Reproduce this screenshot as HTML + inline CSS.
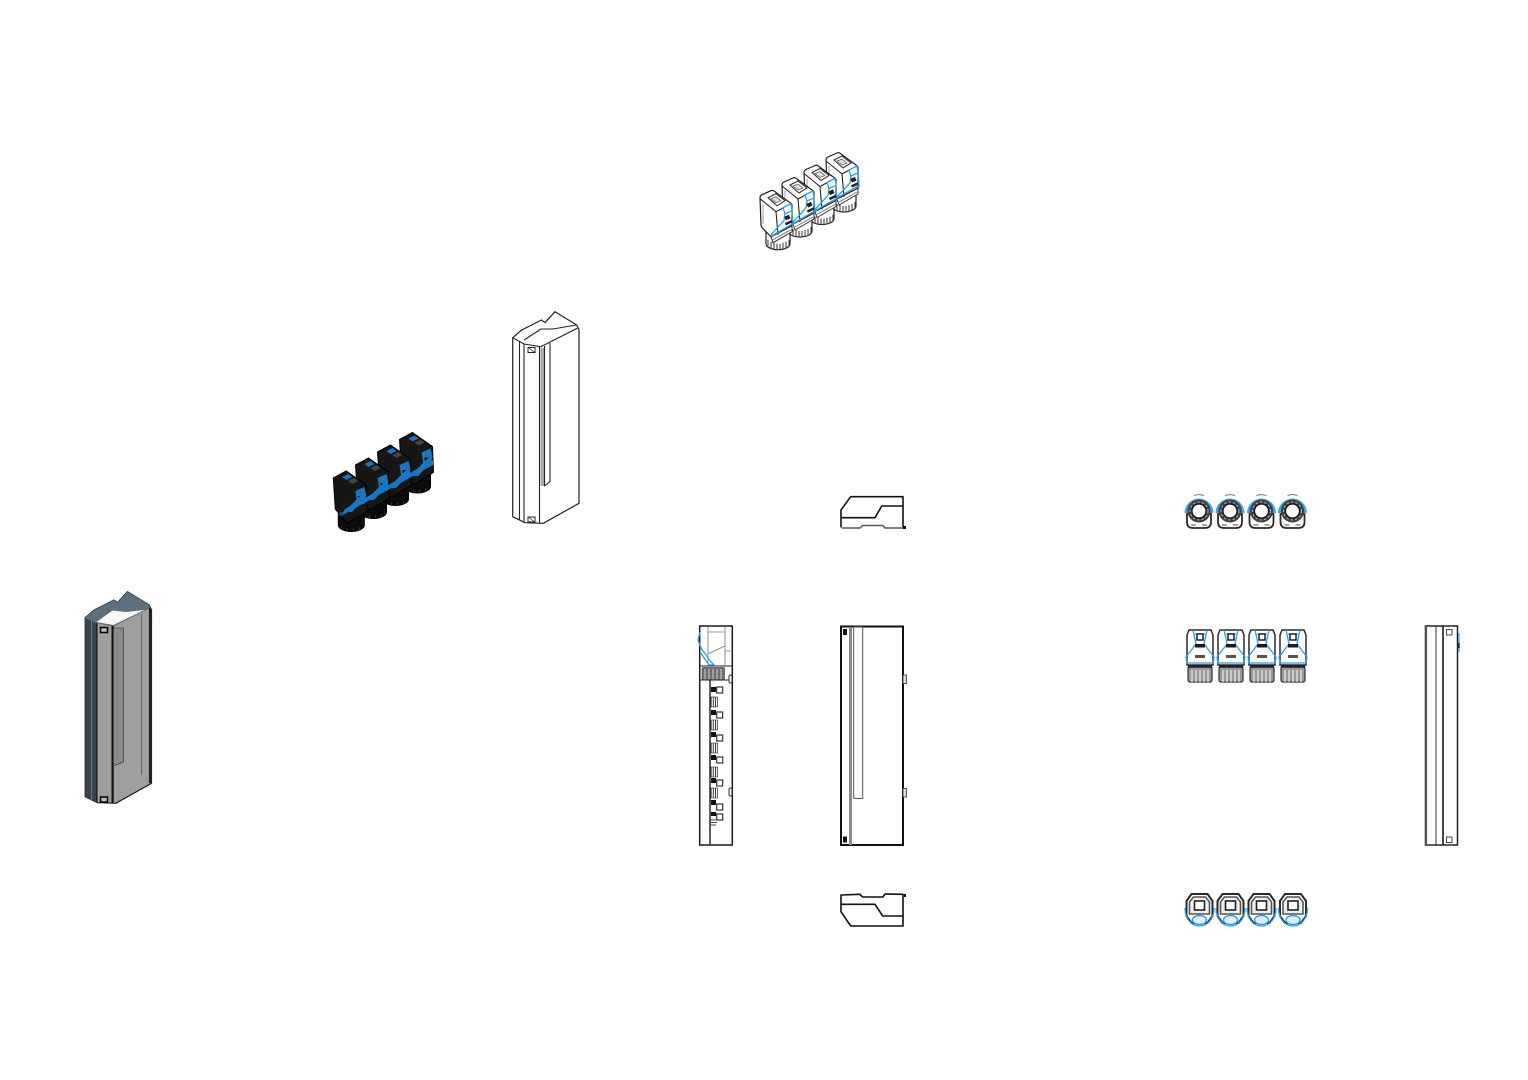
<!DOCTYPE html>
<html>
<head>
<meta charset="utf-8">
<style>
html,body{margin:0;padding:0;background:#fff;width:1528px;height:1080px;overflow:hidden}
svg{display:block}
.k{fill:none;stroke:#222;stroke-width:1.1;stroke-linejoin:round}
.kt{fill:none;stroke:#111;stroke-width:1.6;stroke-linejoin:round}
.g{fill:none;stroke:#777;stroke-width:.8}
.b{fill:none;stroke:#2e9be6;stroke-width:1.3}
</style>
</head>
<body>
<svg width="1528" height="1080" viewBox="0 0 1528 1080" xmlns="http://www.w3.org/2000/svg">
<defs>
<pattern id="comb" width="2.2" height="4" patternUnits="userSpaceOnUse">
  <rect width="1" height="4" fill="#333"/>
</pattern>
<!-- isometric connector, outline style -->
<g id="iso">
  <path d="M6 42 V53 A12 6 0 0 0 30 53 V36 Z" fill="#fff" stroke="#222" stroke-width="1.2"/>
  <path d="M8 49V56M11 51V58M14 52V59M17 53V59.5M20 53V59.5M23 52V59M26 51V58M29 49V56" stroke="#444" stroke-width="1.1"/>
  <path d="M11 46 L32 35 L32 41 L13 52 Z" fill="#fff" stroke="#333"/>
  <path d="M13 49 L31 39" stroke="#777" stroke-width="1"/>
  <path d="M0 7 Q0 5 2 4 L11 0 Q13 -1 15 1 L30 12 Q32 13 32 15 L32 35 L11 46 L3 38 Q1 36 1 34 Z" fill="#fff" stroke="#222" stroke-width="1.2" stroke-linejoin="round"/>
  <path d="M0 8 L16 21 L31 13 M16 21 L18 44" class="k"/>
  <path d="M8 7 L16 3 L25 10 L17 15 Z" fill="#fff" stroke="#333" stroke-width="1.1"/>
  <path d="M11 8 L16 6 L21 10 L16 12 Z" fill="#ddd" stroke="#555" stroke-width=".7"/>
  <path d="M3 13V33" stroke="#888" stroke-width=".8"/>
  <path d="M23 17 L31 13 L32 20 L25 23 Z" fill="#fff" stroke="#2e9be6" stroke-width="1.3"/>
  <path d="M25 23 L24 30 L11 44 M32 20 L33 34" class="b"/>
  <rect x="25" y="25" width="5" height="4" fill="#222" transform="rotate(-25 27 27)"/>
  <rect x="25" y="31" width="7" height="2.5" fill="#222" transform="rotate(-25 28 32)"/>
</g>
<!-- isometric connector, solid style -->
<g id="isoD">
  <path d="M5 40 V54 A13 6.5 0 0 0 31 54 V34 Z" fill="#0b0b0b" stroke="#000"/>
  <path d="M8 55V59M14 57V60M20 57V60M26 56V59" stroke="#333" stroke-width="1"/>
  <path d="M0 7 L13 0 L33 14 L34 40 L14 52 L2 38 Z" fill="#161616" stroke="#000" stroke-linejoin="round"/>
  <path d="M9 6 L15 3 L19 6 L13 9 Z" fill="#1d74c0"/>
  <path d="M15 10 L21 7 L25 10 L19 13 Z" fill="#444"/>
  <path d="M22 20 L31 16 L33 24 L31 33 L24 32 Z" fill="#1d74c0"/>
  <rect x="25" y="25" width="4" height="3" fill="#111"/>
</g>
<!-- end-on view, top row -->
<g id="top">
  <path d="M-12 4 L-12 12 Q-12 18 -6 18 L6 18 Q12 18 12 12 L12 4 Z" fill="#fff" stroke="#2a2a2a" stroke-width="1.8"/>
  <path d="M-14.5 3 A14.5 14.5 0 0 1 14.5 3 L11 3 A11.5 11.5 0 0 0 -11 3 Z" fill="#3fa3ea"/>
  <path d="M-5 -14.5 A15 15 0 0 1 5 -14.5" fill="none" stroke="#777" stroke-width="1"/>
  <circle cx="0" cy="1" r="11.5" fill="#3e3e3e"/>
  <circle cx="0" cy="1" r="9" fill="none" stroke="#b5b5b5" stroke-width="1" stroke-dasharray="2.5 2"/>
  <circle cx="0" cy="1" r="7" fill="#fff" stroke="#111" stroke-width="1.2"/>
  <path d="M-8 15H-3M3 15H8" stroke="#888" stroke-width="1.6"/>
</g>
<!-- front view -->
<g id="front">
  <path d="M-11 1 L11 1 L13 6 L13 36 L-13 36 L-13 6 Z" fill="#fff" stroke="#2a2a2a" stroke-width="1.5"/>
  <path d="M-7 1 L-5 10 L-4 15 L-14 28 L-13 34 L13 34 L14 28 L4 15 L5 10 L7 1" class="b" stroke-width="1.5"/>
  <path d="M-5 5H5" stroke="#2e9be6" stroke-width="1.2"/>
  <rect x="-3" y="5" width="6" height="6" fill="#fff" stroke="#111" stroke-width="1.4"/>
  <rect x="-5" y="15" width="10" height="3.5" fill="#1a1a1a"/>
  <rect x="-5" y="26" width="10" height="3" fill="#555"/>
  <rect x="-12" y="37" width="24" height="16" rx="2" fill="#999" stroke="#333" stroke-width="1.2"/>
  <path d="M-8 41V53M-4 41V53M0 41V53M4 41V53M8 41V53" stroke="#eee" stroke-width="1.2"/>
  <path d="M-12 37.5H12" stroke="#222" stroke-width="2.5"/>
</g>
<!-- bottom view -->
<g id="bot">
  <path d="M-8 0 L8 0 L13 7 L13 22 L8 29 L-8 29 L-13 22 L-13 7 Z" fill="#fff" stroke="#2a2a2a" stroke-width="2"/>
  <path d="M-6 3 L6 3 L10 8 L10 20 L-10 20 L-10 8 Z" fill="#eee" stroke="#555" stroke-width="1.6"/>
  <rect x="-5" y="7" width="10" height="9" fill="#fff" stroke="#222" stroke-width="1.6"/>
  <path d="M-14.5 14 C-14.5 25 -8 32 0 32 C8 32 14.5 25 14.5 14" class="b" stroke-width="1.6"/>
  <ellipse cx="0" cy="26" rx="7" ry="4.5" fill="#dff0fb" stroke="#2e9be6" stroke-width="1.4"/>
</g>
<!-- tall enclosure outline -->
<g id="box">
  <path d="M512.7 337.7 L521.7 330 L541.5 320 L545 322.7 L555 311.7 L576.7 325 L579 330 L579 503.3 L543.3 523.3 L525 522.7 L512.7 516.7 Z" fill="#fff" stroke="#222" stroke-width="1.2" stroke-linejoin="round"/>
  <path d="M512.7 337.7 L524 344 L540.7 346.7 L577.3 328.3 M524 340 L541 329 L553 329 L576 325" class="k"/>
  <path d="M519.5 341V520M524 344V522.5M539.5 346.5V523" class="k"/>
  <rect x="540.5" y="348" width="4" height="138" fill="#aaa"/>
  <path d="M544.5 346V486 L550 481.7 V343" class="k"/>
  <rect x="528" y="347.5" width="7" height="5" fill="#fff" stroke="#222"/>
  <rect x="528" y="517" width="7" height="5" fill="#fff" stroke="#222"/>
  <path d="M529 348L534 352M529 517.5L534 521.5" stroke="#222" stroke-width=".8"/>
</g>
</defs>

<rect width="1528" height="1080" fill="#fff"/>

<!-- isometric connector strip, outline -->
<g>
  <use href="#iso" transform="translate(826,153)"/>
  <use href="#iso" transform="translate(804,165.5)"/>
  <use href="#iso" transform="translate(782,178)"/>
  <use href="#iso" transform="translate(760,190.7)"/>
  <path d="M771.5 236 L858 186 M858 170 L859 186" class="b"/>
</g>

<!-- isometric connector strip, solid -->
<g>
  <use href="#isoD" transform="translate(399.5,432.5)"/>
  <use href="#isoD" transform="translate(377.5,445)"/>
  <use href="#isoD" transform="translate(355.5,458)"/>
  <use href="#isoD" transform="translate(333.3,471)"/>
  <path d="M341 516 L433 465 L433 460 L345 509 Z" fill="#1d74c0"/>
  <path d="M344 512 L362 494 L366 497 L352 512 Z M366 500 L384 482 L388 485 L374 500 Z M388 488 L406 470 L410 473 L396 488 Z M410 476 L428 458 L432 461 L418 476 Z" fill="#1d74c0"/>
  <circle cx="341" cy="514" r="2" fill="#0d4f8c"/>
</g>

<!-- enclosure outline -->
<use href="#box"/>

<!-- enclosure shaded -->
<g transform="translate(-427.5,280)">
  <path d="M512.7 337.7 L521.7 330 L541.5 320 L545 322.7 L555 311.7 L576.7 325 L579 330 L579 503.3 L543.3 523.3 L525 522.7 L512.7 516.7 Z" fill="#9f9f9f" stroke="#222" stroke-width="1.2" stroke-linejoin="round"/>
  <path d="M512.7 337.7 L523.5 343 L523.5 522 L512.7 516.7 Z" fill="#37424c"/>
  <path d="M512.7 337.7 L521.7 330 L541.5 320 L545 322.7 L555 311.7 L576.7 325 L577.3 328.3 L540.7 346.7 L523.5 343 Z" fill="#5d7080"/>
  <path d="M524 342 L540 330.5 L553 332 L572 330 L541 345 Z" fill="#f7f7f7"/>
  <path d="M519 341V520" stroke="#6a7680" stroke-width="1"/>
  <rect x="523.5" y="343" width="1.6" height="179" fill="#222"/>
  <rect x="539" y="346" width="2.2" height="177" fill="#111"/>
  <path d="M541 348H551V482L541 486Z" fill="#8a8a8a" stroke="#444" stroke-width=".8"/>
  <path d="M569 334V495" stroke="#666" stroke-width="1"/>
  <path d="M577.5 328V503" stroke="#222" stroke-width="2.2"/>
  <rect x="528" y="347.5" width="7" height="5" fill="#bbb" stroke="#000" stroke-width="1.5"/>
  <rect x="528" y="517" width="7" height="5" fill="#bbb" stroke="#000" stroke-width="1.5"/>
</g>

<!-- side elevation -->
<g>
  <rect x="699.7" y="626" width="32.6" height="219" fill="#fff" stroke="#1a1a1a" stroke-width="1.5"/>
  <path d="M710 680V845" stroke="#1a1a1a" stroke-width="1.4"/>
  <path d="M699.7 666H732.3" class="k"/>
  <path d="M708 627V666M725 627V666M708 654 L725 646 M725 651H732M708 632H725" class="g"/>
  <path d="M700 632 L698 640 L701 648 L711 662 L714 665 L709 665 L700 652" class="b" stroke-width="1.5"/>
  <rect x="701.5" y="667" width="23.5" height="13" rx="1.5" fill="#6f6f6f"/>
  <path d="M705 669V680M709 669V680M713 669V680M717 669V680M721 669V680" stroke="#ccc" stroke-width="1"/>
  <path d="M699.7 680H732" stroke="#222"/>
  <g fill="url(#comb)" stroke="#333" stroke-width=".6">
    <rect x="710.5" y="697" width="7" height="10"/>
    <rect x="710.5" y="720" width="7" height="10"/>
    <rect x="710.5" y="743" width="7" height="10"/>
    <rect x="710.5" y="767" width="7" height="10"/>
    <rect x="710.5" y="788" width="7" height="10"/>
  </g>
  <g fill="#fff" stroke="#222" stroke-width="1.1">
    <rect x="716.7" y="687" width="6" height="6"/>
    <rect x="716.7" y="712" width="6" height="6"/>
    <rect x="716.7" y="735" width="6" height="6"/>
    <rect x="716.7" y="757" width="6" height="6"/>
    <rect x="716.7" y="780" width="6" height="6"/>
    <rect x="716.7" y="804" width="6" height="6"/>
    <rect x="716.7" y="814" width="6" height="6"/>
  </g>
  <g fill="#111">
    <rect x="711" y="687" width="5" height="5"/>
    <rect x="711" y="710" width="5" height="5"/>
    <rect x="711" y="732" width="5" height="5"/>
    <rect x="711" y="755" width="5" height="5"/>
    <rect x="711" y="778" width="5" height="5"/>
    <rect x="711" y="800" width="5" height="5"/>
    <rect x="711" y="812" width="5" height="4"/>
  </g>
  <path d="M711 820H717M711 822.5H717M711 825H716" stroke="#444" stroke-width=".9"/>
  <rect x="729" y="675" width="3" height="8" rx="1.5" fill="#fff" stroke="#333"/>
  <rect x="729" y="788" width="3" height="8" rx="1.5" fill="#fff" stroke="#333"/>
</g>

<!-- top view -->
<g>
  <path d="M841 527.5 V510 L850.7 496.7 H903 V527" class="kt"/>
  <path d="M841 517.7 H875 L881.7 506 H903" class="kt" stroke-width="1.2"/>
  <path d="M842 528 H860 L862.5 525.5 H883 L885 528 H903" fill="none" stroke="#555" stroke-width="1.4"/>
  <rect x="903" y="526" width="3" height="3" fill="#111"/>
</g>

<!-- main elevation -->
<g>
  <rect x="841" y="626.5" width="62" height="218.5" fill="#fff" stroke="#111" stroke-width="2"/>
  <rect x="849" y="627" width="3" height="218" fill="#8c8c8c"/>
  <rect x="853.7" y="627" width="9" height="171.5" fill="#fff" stroke="#555" stroke-width="1"/>
  <rect x="843" y="629" width="4" height="6" fill="#111"/>
  <rect x="843" y="836.5" width="4" height="6" fill="#111"/>
  <rect x="903" y="675" width="3.5" height="8.5" fill="#ddd" stroke="#444" stroke-width=".9"/>
  <rect x="903" y="788.5" width="3.5" height="8.5" fill="#ddd" stroke="#444" stroke-width=".9"/>
</g>

<!-- bottom view -->
<g>
  <path d="M841 911.7 V895 L860 894.3 L862.5 897 H883 L885 894 L903 894.3 V926 H850.7 Z" class="kt" stroke-width="1.4"/>
  <path d="M841 904.3 H875 L882.7 916 H903" class="kt" stroke-width="1.2"/>
  <rect x="904" y="894" width="2" height="3" fill="#111"/>
</g>

<!-- connector end views -->
<use href="#top" transform="translate(1199,510)"/>
<use href="#top" transform="translate(1230,510)"/>
<use href="#top" transform="translate(1261.5,510)"/>
<use href="#top" transform="translate(1292.5,510)"/>

<use href="#front" transform="translate(1200,629)"/>
<use href="#front" transform="translate(1231,629)"/>
<use href="#front" transform="translate(1262,629)"/>
<use href="#front" transform="translate(1293,629)"/>

<use href="#bot" transform="translate(1199.5,894)"/>
<use href="#bot" transform="translate(1230.5,894)"/>
<use href="#bot" transform="translate(1261.5,894)"/>
<use href="#bot" transform="translate(1293,894)"/>

<!-- rear elevation -->
<g>
  <rect x="1425.5" y="626" width="32" height="219" fill="#fff" stroke="#222" stroke-width="1.5"/>
  <path d="M1426 626V845" stroke="#555" stroke-width="2.2"/>
  <path d="M1436 626V845" stroke="#333" stroke-width="1"/>
  <path d="M1443 626V845" stroke="#333" stroke-width="1.8"/>
  <rect x="1446.5" y="629.5" width="5.5" height="5.5" fill="#fff" stroke="#444"/>
  <rect x="1446.5" y="837" width="5.5" height="5.5" fill="#fff" stroke="#444"/>
  <rect x="1458" y="633" width="1.6" height="19" fill="#3fa3ea"/>
  <rect x="1458" y="643" width="1.6" height="5" fill="#222"/>
</g>
</svg>
</body>
</html>
